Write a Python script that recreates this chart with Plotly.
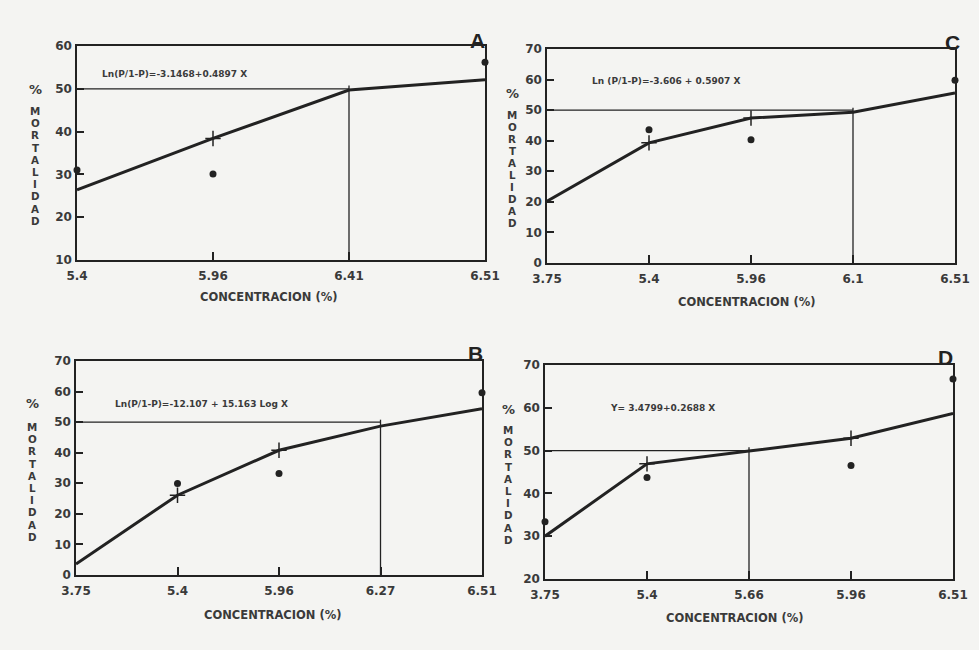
import plotly.graph_objects as go

W, H = 979, 650

# ---------------- data ----------------
A_cats = ["5.4", "5.96", "6.41", "6.51"]
A_fit = [26.4, 38.4, 49.7, 52.1]
A_obs_x = ["5.4", "5.96", "6.51"]
A_obs = [31.0, 30.1, 56.2]
A_lc50 = "6.41"
A_eq = "Ln(P/1-P)=-3.1468+0.4897 X"
A_yticks = [10, 20, 30, 40, 50, 60]

C_cats = ["3.75", "5.4", "5.96", "6.1", "6.51"]
C_fit = [20.2, 39.3, 47.4, 49.3, 55.6]
C_obs_x = ["5.4", "5.96", "6.51"]
C_obs = [43.6, 40.3, 59.8]
C_lc50 = "6.1"
C_eq = "Ln (P/1-P)=-3.606 + 0.5907 X"
C_yticks = [0, 10, 20, 30, 40, 50, 60, 70]

B_cats = ["3.75", "5.4", "5.96", "6.27", "6.51"]
B_fit = [3.6, 26.1, 40.8, 48.7, 54.4]
B_obs_x = ["5.4", "5.96", "6.51"]
B_obs = [29.9, 33.2, 59.6]
B_lc50 = "6.27"
B_eq = "Ln(P/1-P)=-12.107 + 15.163 Log X"
B_yticks = [0, 10, 20, 30, 40, 50, 60, 70]

D_cats = ["3.75", "5.4", "5.66", "5.96", "6.51"]
D_fit = [30.0, 46.9, 49.9, 52.9, 58.7]
D_obs_x = ["3.75", "5.4", "5.96", "6.51"]
D_obs = [33.4, 43.7, 46.5, 66.7]
D_lc50 = "5.66"
D_eq = "Y= 3.4799+0.2688 X"
D_yticks = [20, 30, 40, 50, 60, 70]

LEVEL = 50
YLAB = "MORTALIDAD"
XLAB = "CONCENTRACION (%)"

# ---------------- layout helpers ----------------
def px(x):
    return x / W

def py(y):
    return 1 - y / H

INK = "#222222"
TXT = "#3a3a3a"
FONT = "DejaVu Sans"

panels = [
    # letter, cats, fit, obsx, obs, lc50, eq, yticks, plot box(l,r,t,b), eqpos, letterpos, xlabpos, ylab x, % y, letters top y, step
    ("A", A_cats, A_fit, A_obs_x, A_obs, A_lc50, A_eq, A_yticks, (77, 485, 46, 260), (100, 74), (477, 40), (269, 297), 35, 89, 111, 12.2),
    ("C", C_cats, C_fit, C_obs_x, C_obs, C_lc50, C_eq, C_yticks, (547, 955, 49, 263), (590, 81), (952, 42), (747, 302), 512, 93, 115, 12.0),
    ("B", B_cats, B_fit, B_obs_x, B_obs, B_lc50, B_eq, B_yticks, (76, 482, 361, 575), (113, 404), (475, 353), (273, 615), 32, 404, 427, 12.2),
    ("D", D_cats, D_fit, D_obs_x, D_obs, D_lc50, D_eq, D_yticks, (545, 953, 365, 579), (608, 408), (945, 357), (735, 618), 508, 409, 430, 12.2),
]

fig = go.Figure()
annotations = []
layout = {}

for i, (letter, cats, fit, obsx, obs, lc50, eq, yticks, box, eqpos, letpos, xlpos, ylx, pcty, ly0, lstep) in enumerate(panels):
    n = i + 1
    xa = "x" if n == 1 else f"x{n}"
    ya = "y" if n == 1 else f"y{n}"
    xkey = "xaxis" if n == 1 else f"xaxis{n}"
    ykey = "yaxis" if n == 1 else f"yaxis{n}"
    l, r, t, b = box
    ymin, ymax = yticks[0], yticks[-1]

    # 50% reference lines
    fig.add_trace(go.Scatter(x=[cats[0], lc50], y=[LEVEL, LEVEL], mode="lines",
                             line=dict(color=INK, width=1.3), xaxis=xa, yaxis=ya,
                             showlegend=False, hoverinfo="skip", cliponaxis=False))
    fig.add_trace(go.Scatter(x=[lc50, lc50], y=[ymin, LEVEL + 0.8], mode="lines",
                             line=dict(color=INK, width=1.3), xaxis=xa, yaxis=ya,
                             showlegend=False, hoverinfo="skip", cliponaxis=False))
    # fitted curve
    fig.add_trace(go.Scatter(x=cats, y=fit, mode="lines",
                             line=dict(color=INK, width=3), xaxis=xa, yaxis=ya,
                             showlegend=False, cliponaxis=False))
    # plus marks on curve
    plus_x = [c for c in cats[1:-1] if c != lc50]
    plus_y = [fit[cats.index(c)] for c in plus_x]
    fig.add_trace(go.Scatter(x=plus_x, y=plus_y, mode="markers",
                             marker=dict(symbol="cross-thin", size=11, line=dict(color=INK, width=1.5)),
                             xaxis=xa, yaxis=ya, showlegend=False, cliponaxis=False))
    # observed points
    fig.add_trace(go.Scatter(x=obsx, y=obs, mode="markers",
                             marker=dict(symbol="circle", size=7, color=INK),
                             xaxis=xa, yaxis=ya, showlegend=False, cliponaxis=False))

    tf = dict(family=FONT, size=12, color=TXT, weight="bold")
    layout[xkey] = dict(domain=[px(l), px(r)], anchor=ya, type="category",
                        categoryorder="array", categoryarray=cats, automargin=False,
                        range=[0, len(cats) - 1], showline=True, mirror=True,
                        linecolor=INK, linewidth=1.5, ticks="inside", ticklen=8,
                        tickwidth=1.5, tickcolor=INK, showgrid=False, zeroline=False,
                        ticklabelstandoff=4, tickfont=tf, fixedrange=True)
    layout[ykey] = dict(domain=[py(b), py(t)], anchor=xa, range=[ymin, ymax],
                        tickvals=yticks, showline=True, mirror=True, automargin=False,
                        linecolor=INK, linewidth=1.5, ticks="inside", ticklen=7,
                        tickwidth=1.5, tickcolor=INK, showgrid=False, zeroline=False,
                        ticklabelstandoff=1, tickfont=tf, fixedrange=True)

    # equation
    annotations.append(dict(x=px(eqpos[0]), y=py(eqpos[1]), xref="paper", yref="paper",
                            text=f"<b>{eq}</b>", showarrow=False, xanchor="left", yanchor="middle",
                            font=dict(family=FONT, size=9, color=TXT)))
    # panel letter
    annotations.append(dict(x=px(letpos[0]), y=py(letpos[1]), xref="paper", yref="paper",
                            text=f"<b>{letter}</b>", showarrow=False, xanchor="center", yanchor="middle",
                            font=dict(family="Liberation Sans", size=21, color=INK)))
    # x label
    annotations.append(dict(x=px(xlpos[0]), y=py(xlpos[1]), xref="paper", yref="paper",
                            text=f"<b>{XLAB}</b>", showarrow=False, xanchor="center", yanchor="middle",
                            font=dict(family=FONT, size=11.5, color=TXT)))
    # y label: % then stacked letters
    annotations.append(dict(x=px(ylx), y=py(pcty), xref="paper", yref="paper",
                            text="<b>%</b>", showarrow=False, xanchor="center", yanchor="middle",
                            font=dict(family=FONT, size=13, color=TXT)))
    for k, ch in enumerate(YLAB):
        annotations.append(dict(x=px(ylx), y=py(ly0 + k * lstep), xref="paper", yref="paper",
                                text=f"<b>{ch}</b>", showarrow=False, xanchor="center", yanchor="middle",
                                borderpad=0,
                                font=dict(family=FONT, size=10.3, color=TXT)))

fig.update_layout(width=W, height=H, margin=dict(l=0, r=0, t=0, b=0),
                  paper_bgcolor="#f4f4f2", plot_bgcolor="#f4f4f2",
                  annotations=annotations, showlegend=False, **layout)

fig.write_html("out.html")
